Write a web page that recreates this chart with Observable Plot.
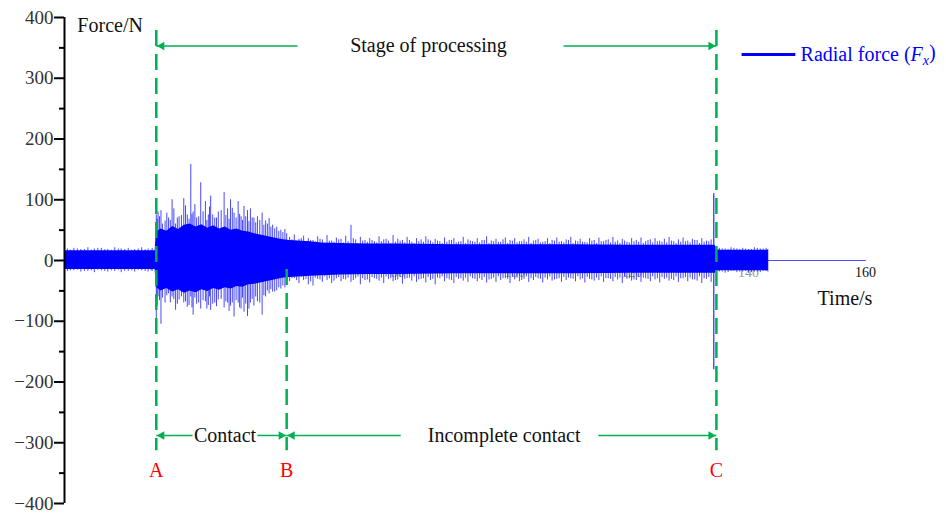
<!DOCTYPE html>
<html><head><meta charset="utf-8">
<script src="https://cdn.jsdelivr.net/npm/d3@7"></script>
<script src="https://cdn.jsdelivr.net/npm/@observablehq/plot@0.6"></script>
<style>html,body{margin:0;padding:0;background:#fff;} svg text{font-family:"Liberation Serif","Times New Roman",serif !important;}</style>
</head><body><div id="chart"></div>
<script>
// ---- axis ticks ----
const yMajorTicks = [-400, -300, -200, -100, 0, 100, 200, 300, 400];
const yMinorTicks = [-350, -250, -150, -50, 50, 150, 250, 350];
const xTickValues = [40, 60, 80, 100, 120, 140, 160];
const xTickLabels = ["40", "60", "80", "100", "120", "140", "160"];

// ---- dense core of the radial force signal (envelope, N) ----
const coreTime  = [23, 38.5, 38.7, 39.5, 40.5, 41.5, 42.5, 43.5, 44.5, 45.5, 46.5, 47.5, 48.5, 49.5, 50.5, 51.5, 52.5, 53.5, 54.5, 55.5, 56.5, 57.5, 58.5, 59.5, 60.5, 61.5, 63, 65, 67, 70, 75, 80, 90, 100, 110, 120, 130, 134.3, 134.5, 143.4];
const coreUpper = [16, 16, 46, 52, 48, 56, 51, 58, 60, 55, 59, 53, 57, 52, 55, 50, 52, 48, 47, 44, 42, 40, 38, 36, 34, 33, 32, 31, 29, 28, 27, 27, 26, 26, 26, 25, 25, 25, 17, 17];
const coreLower = [-15, -15, -44, -50, -46, -52, -48, -54, -50, -53, -48, -51, -46, -49, -45, -47, -43, -44, -40, -39, -37, -35, -33, -31, -29, -28, -27, -26, -25, -24, -23, -23, -22, -22, -22, -21, -21, -21, -17, -17];

// ---- individual peaks, main set (time s, max N, min N) ----
const spikeTime = [
  23.5, 24.6, 25.8, 27.0, 28.1, 29.3, 30.4, 31.6, 32.7, 33.9, 35.0, 36.2, 37.3, 38.0,
  38.7, 39.0, 39.5, 40.2, 40.8, 41.4, 42.0, 42.6, 43.4, 44.0, 44.6, 45.0, 45.6, 46.3, 47.1, 47.6, 48.0, 48.7, 49.3, 50.3, 50.9, 51.4, 52.0, 52.7, 53.2, 53.7, 54.3, 54.8, 55.4, 56.0, 56.8, 57.4, 58.0, 58.6, 59.3, 60.0, 60.7,
  61.5, 62.3, 63.1, 63.9, 64.7, 65.5, 66.3, 67.1, 67.9, 68.7, 69.5, 70.3, 71.1, 72.0, 72.8, 73.6, 74.4, 75.2, 76.0, 76.8, 77.6, 78.4, 79.2, 80.0,
  80.8, 81.6, 82.4, 83.2, 84.0, 84.8, 85.6, 86.4, 87.2, 88.0, 88.8, 89.6, 90.4, 91.2, 92.0, 92.8, 93.6, 94.4, 95.2, 96.0, 96.8, 97.6, 98.4, 99.2, 100.0,
  100.8, 101.6, 102.4, 103.2, 104.0, 104.8, 105.6, 106.4, 107.2, 108.0, 108.8, 109.6, 110.4, 111.2, 112.0, 112.8, 113.6, 114.4, 115.2, 116.0, 116.8, 117.6, 118.4, 119.2, 120.0,
  120.8, 121.6, 122.4, 123.2, 124.0, 124.8, 125.6, 126.4, 127.2, 128.0, 128.8, 129.6, 130.4, 131.2, 132.0, 132.8, 133.6,
  135.0, 136.0, 137.0, 138.0, 139.0, 140.0, 141.0, 142.0, 143.0
];
const spikeUpper = [
  19, 20, 18, 21, 19, 20, 18, 21, 19, 20, 18, 21, 19, 20,
  75, 80, 82, 65, 70, 100, 60, 72, 102, 75, 158, 80, 70, 128, 97, 75, 106, 70, 80, 112, 85, 100, 78, 97, 72, 89, 82, 85, 70, 72, 78, 65, 69, 58, 55, 50, 51,
  38, 42, 35, 40, 36, 33, 39, 34, 41, 32, 37, 35, 40, 58, 34, 38, 33, 36, 31, 39, 34, 32, 41, 35,
  33, 38, 30, 36, 34, 39, 32, 35, 31, 37, 33, 36, 30, 38, 34, 31, 36, 33, 39, 32, 35, 30, 37, 33, 36,
  31, 34, 38, 32, 35, 30, 36, 33, 37, 31, 34, 38, 32, 35, 30, 36, 33, 37, 31, 34, 38, 32, 35, 30, 36,
  33, 37, 31, 34, 36, 32, 35, 38, 31, 34, 37, 32, 35, 33, 36, 32, 34,
  20, 19, 21, 19, 20, 18, 21, 19, 20
];
const spikeLower = [
  -18, -17, -19, -18, -20, -17, -19, -18, -20, -18, -19, -17, -19, -18,
  -120, -60, -105, -70, -55, -60, -82, -65, -70, -77, -60, -90, -72, -80, -68, -74, -82, -70, -65, -78, -70, -75, -93, -70, -80, -85, -92, -70, -75, -68, -90, -60, -55, -52, -50, -47, -45,
  -35, -30, -38, -33, -40, -42, -31, -36, -33, -38, -30, -35, -32, -36, -30, -40, -33, -37, -30, -34, -38, -31, -35, -32,
  -39, -30, -34, -36, -31, -37, -33, -40, -30, -35, -32, -38, -31, -34, -36, -30, -35, -33, -37, -31, -36, -33, -30, -38, -32,
  -35, -31, -36, -33, -30, -37, -32, -34, -31, -36, -33, -30, -35, -32, -37, -31, -34, -33, -36, -30, -35, -32, -38, -31, -34,
  -33, -36, -30, -35, -32, -37, -31, -34, -33, -36, -30, -35, -32, -34, -38, -31, -36,
  -19, -21, -18, -20, -19, -21, -19, -20, -18
];

// ---- individual peaks, in-between set ----
const spikeTime2 = [
  24.0, 25.2, 26.4, 27.6, 28.7, 29.9, 31.0, 32.2, 33.3, 34.5, 35.6, 36.8, 37.8,
  38.85, 39.25, 39.75, 40.5, 41.1, 41.7, 42.3, 43.0, 43.7, 44.3, 44.8, 45.3, 45.95, 46.7, 47.35, 47.8, 48.35, 49.0, 49.8, 50.6, 51.15, 51.7, 52.35, 52.95, 53.45, 54.0, 54.55, 55.1, 55.7, 56.4, 57.1, 57.7, 58.3, 58.95, 59.65, 60.35, 61.0,
  61.9, 62.7, 63.5, 64.3, 65.1, 65.9, 66.7, 67.5, 68.3, 69.1,
  69.9, 70.7, 71.5, 72.4, 73.2, 74.0, 74.8, 75.6, 76.4, 77.2,
  78.0, 78.8, 79.6, 80.4, 81.2, 82.0, 82.8, 83.6, 84.4, 85.2,
  86.0, 86.8, 87.6, 88.4, 89.2, 90.0, 90.8, 91.6, 92.4, 93.2,
  94.0, 94.8, 95.6, 96.4, 97.2, 98.0, 98.8, 99.6, 100.4, 101.2,
  102.0, 102.8, 103.6, 104.4, 105.2, 106.0, 106.8, 107.6, 108.4, 109.2,
  110.0, 110.8, 111.6, 112.4, 113.2, 114.0, 114.8, 115.6, 116.4, 117.2,
  118.0, 118.8, 119.6, 120.4, 121.2, 122.0, 122.8, 123.6, 124.4, 125.2,
  126.0, 126.8, 127.6, 128.4, 129.2, 130.0, 130.8, 131.6, 132.4, 133.2,
  134.8, 135.5, 136.5, 137.5, 138.5, 139.5, 140.5, 141.5, 142.5, 143.3
];
const spikeUpper2 = [
  17, 19, 18, 17, 20, 18, 17, 19, 18, 17, 19, 18, 17,
  68, 72, 60, 78, 66, 85, 70, 74, 90, 68, 76, 92, 72, 80, 66, 88, 75, 70, 82, 74, 68, 86, 70, 76, 66, 72, 64, 70, 62, 66, 58, 60, 55, 52, 48, 46, 44,
  34, 30, 36, 29, 33, 31, 35, 28, 32, 30,
  34, 29, 31, 36, 28, 32, 30, 33, 29, 31,
  35, 28, 30, 32, 29, 33, 28, 31, 30, 34,
  29, 32, 28, 30, 33, 29, 31, 28, 32, 30,
  29, 33, 28, 31, 30, 34, 28, 32, 29, 31,
  30, 28, 33, 29, 31, 28, 32, 30, 29, 33,
  28, 31, 30, 29, 32, 28, 31, 33, 29, 30,
  28, 32, 29, 31, 30, 28, 33, 29, 31, 30,
  29, 32, 28, 30, 31, 29, 33, 28, 30, 31,
  18, 19, 18, 20, 18, 19, 18, 20, 19, 18
];
const spikeLower2 = [
  -17, -16, -18, -17, -16, -18, -17, -16, -18, -17, -16, -18, -17,
  -75, -66, -62, -58, -70, -64, -72, -60, -68, -74, -78, -62, -70, -66, -80, -60, -72, -76, -64, -68, -84, -70, -66, -78, -62, -72, -80, -64, -60, -70, -58, -50, -48, -52, -45, -42, -40,
  -30, -33, -28, -31, -35, -29, -32, -27, -30, -34,
  -28, -31, -29, -33, -27, -30, -32, -28, -31, -29,
  -27, -30, -33, -28, -31, -29, -27, -32, -30, -28,
  -31, -29, -27, -30, -33, -28, -30, -29, -27, -31,
  -30, -28, -32, -29, -27, -30, -31, -28, -29, -33,
  -27, -30, -28, -31, -29, -27, -32, -30, -28, -29,
  -31, -27, -30, -28, -32, -29, -27, -30, -31, -28,
  -29, -27, -30, -32, -28, -29, -31, -27, -30, -28,
  -29, -31, -27, -30, -28, -29, -32, -27, -30, -28,
  -18, -19, -20, -18, -19, -18, -20, -19, -18, -19
];

// the large transient at the end of processing (time s, max N, min N)
const stopSpikeTime = [134.05];
const stopSpikeUpper = [110];
const stopSpikeLower = [-180];

// flat signal after the machine stops
const tailTime = [143.4, 160];
const tailForce = [0, 0];

// ---- stage markers ----
const stageNames = ["A", "B", "C"];
const stageTimes = [38.7, 61.0, 134.5];

// ---- build tables ----
const core = coreTime.map((t, i) => ({t, hi: coreUpper[i], lo: coreLower[i]}));
const spikes = spikeTime.map((t, i) => ({t, hi: spikeUpper[i], lo: spikeLower[i]}))
  .concat(spikeTime2.map((t, i) => ({t, hi: spikeUpper2[i], lo: spikeLower2[i]})));
const stopSpike = stopSpikeTime.map((t, i) => ({t, hi: stopSpikeUpper[i], lo: stopSpikeLower[i]}));
const tail = tailTime.map((t, i) => ({t, f: tailForce[i]}));
const xTicks = xTickValues.map((t, i) => ({t, label: xTickLabels[i]}));
const stages = stageNames.map((n, i) => ({n, t: stageTimes[i]}));

const GREEN = "#00b050";
const SERIF = "Liberation Serif, Times New Roman, serif";
const tA = stageTimes[0], tB = stageTimes[1], tC = stageTimes[2];

const topY = 353, botY = -288;
const arrowLines = [
  {x1: 62.85, x2: tA, y: topY},
  {x1: 108.35, x2: tC, y: topY},
  {x1: 44.9, x2: tA, y: botY},
  {x1: 56.0, x2: tB, y: botY},
  {x1: 80.5, x2: tB, y: botY},
  {x1: 114.3, x2: tC, y: botY}
];
const heads = arrowLines.map(d => ({t: d.x2, y: d.y, dir: d.x2 < d.x1 ? -1 : 1}));

const chart = Plot.plot({
  width: 946,
  height: 514,
  marginLeft: 64,
  marginRight: 81,
  marginTop: 17,
  marginBottom: 11,
  x: {domain: [23, 160], axis: null},
  y: {domain: [-400, 400], axis: null},
  style: {fontFamily: SERIF, background: "#fff"},
  marks: [
    // x tick labels lying beneath the signal
    Plot.text(xTicks.filter(d => d.t < 160), {x: "t", y: -19.75, text: "label", fill: "#999", fontSize: 14}),
    // signal
    Plot.areaY(core, {x: "t", y1: "lo", y2: "hi", fill: "#0000ff"}),
    Plot.ruleX(spikes, {x: "t", y1: "lo", y2: "hi", stroke: "#0000ff", strokeOpacity: 0.72, strokeWidth: 1}),
    Plot.lineY(tail, {x: "t", y: "f", stroke: "#0000ff", strokeOpacity: 0.7, strokeWidth: 1}),
    // stage dashed lines
    Plot.ruleX([tA, tC], {x: d => d, y1: 378.6, y2: -313, stroke: GREEN, strokeWidth: 2.5, strokeDasharray: "16,8"}),
    Plot.ruleX([tB], {x: d => d, y1: -15, y2: -313, stroke: GREEN, strokeWidth: 2.5, strokeDasharray: "16,8"}),
    // transient at C, just left of the dashed line
    Plot.ruleX(stopSpike, {x: "t", y1: "lo", y2: "hi", stroke: "#0000ff", strokeOpacity: 0.85, strokeWidth: 1.2}),
    // arrows
    Plot.link(arrowLines, {x1: "x1", x2: "x2", y1: "y", y2: "y", stroke: GREEN, strokeWidth: 1.5}),
    Plot.dot(heads.filter(d => d.dir < 0), {x: "t", y: "y", symbol: "triangle", r: 3.2, rotate: -90, fill: GREEN, stroke: null, dx: 5.5}),
    Plot.dot(heads.filter(d => d.dir > 0), {x: "t", y: "y", symbol: "triangle", r: 3.2, rotate: 90, fill: GREEN, stroke: null, dx: -5.5}),
    // annotation texts
    Plot.text(["Stage of processing"], {x: 85.25, y: topY, text: d => d, fontSize: 20, fill: "#111"}),
    Plot.text(["Contact"], {x: 50.45, y: botY, text: d => d, fontSize: 20, fill: "#111"}),
    Plot.text(["Incomplete contact"], {x: 98.2, y: botY, text: d => d, fontSize: 20, fill: "#111"}),
    Plot.text(stages, {x: "t", y: -345.7, text: "n", fontSize: 20, fill: "#ff0000"}),
    // axis titles
    Plot.text(["Force/N"], {x: 25.2, y: 386.8, text: d => d, textAnchor: "start", fontSize: 20, fill: "#111"}),
    Plot.text(["Time/s"], {x: 151.8, y: -62.5, text: d => d, textAnchor: "start", fontSize: 20, fill: "#111"}),
    // visible x label at the end of the axis
    Plot.text(xTicks.filter(d => d.t === 160), {x: "t", y: -19.75, text: "label", fill: "#111", fontSize: 14}),
    // y axis
    Plot.ruleX([23], {y1: -400, y2: 400, stroke: "#000", strokeWidth: 2}),
    Plot.axisY({ticks: yMajorTicks, tickSize: 10, tickPadding: 1, strokeWidth: 2, stroke: "#000", fill: "#333", fontSize: 19, label: null}),
    Plot.axisY({ticks: yMinorTicks, tickSize: 5, strokeWidth: 2, stroke: "#000", text: null, label: null}),
    // legend
    Plot.link([0], {x1: 138.8, x2: 148.0, y1: 339, y2: 339, stroke: "#0000ff", strokeWidth: 3}),
    Plot.text(["Radial force (Fx)"], {x: 148.9, y: 339, text: d => d, textAnchor: "start", fontSize: 20, fill: "#0000ff"})
  ]
});

document.getElementById("chart").appendChild(chart);

// rich text for the legend label: italic F with italic subscript x
d3.select(chart).selectAll("text").each(function() {
  if (this.textContent === "Radial force (Fx)") {
    const el = d3.select(this);
    el.text(null);
    el.append("tspan").text("Radial force (");
    el.append("tspan").attr("font-style", "italic").text("F");
    el.append("tspan").attr("font-style", "italic").attr("font-size", 14).attr("dy", "0.3em").text("x");
    el.append("tspan").attr("dy", "-0.3em").text(")");
  }
});
</script>
</body></html>
